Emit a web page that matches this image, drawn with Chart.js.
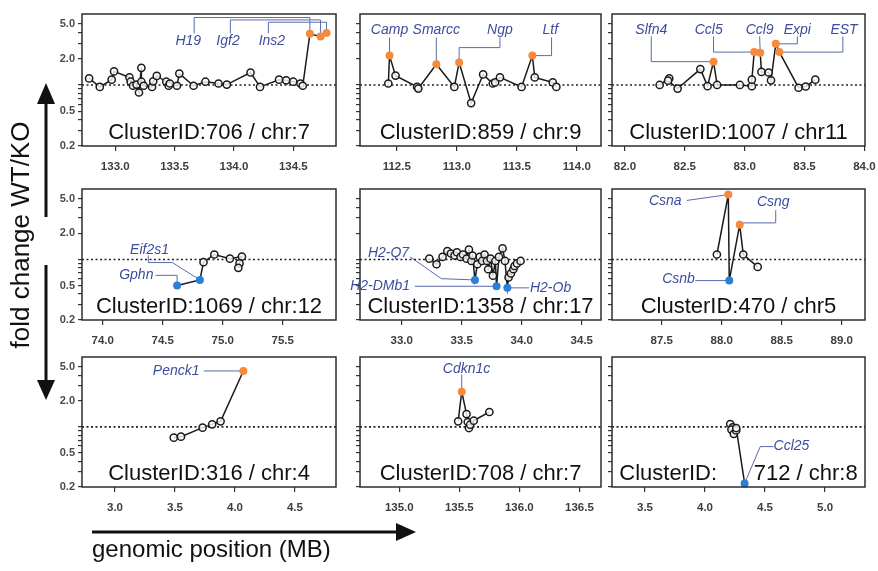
<!DOCTYPE html>
<html>
<head>
<meta charset="utf-8">
<title>Cluster fold change WT/KO</title>
<script src="https://cdn.jsdelivr.net/npm/chart.js@4.4.1/dist/chart.umd.min.js"></script>
<style>
  html, body { margin: 0; padding: 0; background: #fff; overflow: hidden; }
  #page { position: relative; width: 878px; height: 571px; }
  #page canvas { position: absolute; }
  #overlay { position: absolute; left: 0; top: 0; }
</style>
</head>
<body>
<div id="page">
  <svg id="overlay" width="878" height="571" font-family="'Liberation Sans', Arial, sans-serif">
    <g fill="#111" stroke="#111">
      <line x1="46" y1="100" x2="46" y2="217" stroke-width="3"/>
      <polygon points="46,83 37,104 55,104" stroke="none"/>
      <line x1="46" y1="265" x2="46" y2="384" stroke-width="3"/>
      <polygon points="46,400 37,380 55,380" stroke="none"/>
      <line x1="92" y1="532" x2="398" y2="532" stroke-width="3"/>
      <polygon points="416,532 396,523 396,541" stroke="none"/>
    </g>
    <text transform="translate(29,235) rotate(-90)" text-anchor="middle" font-size="26" fill="#111">fold change WT/KO</text>
    <text x="92" y="557" font-size="24" fill="#111">genomic position (MB)</text>
  </svg>
</div>
<script>
// posições (MB) e fold change WT/KO de cada cluster
const c706Pos = [132.78, 132.87, 132.97, 132.99, 133.12, 133.13, 133.15, 133.18, 133.20, 133.22, 133.22, 133.24,
  133.31, 133.32, 133.35, 133.43, 133.45, 133.46, 133.52, 133.54, 133.66, 133.76, 133.87, 133.94, 134.14, 134.22,
  134.38, 134.44, 134.50, 134.56, 134.58, 134.64, 134.73, 134.78];
const c706Fold = [1.19, 0.95, 1.15, 1.43, 1.22, 1.09, 0.98, 1.01, 0.82, 1.57, 1.09, 0.98,
  0.95, 1.10, 1.27, 1.09, 0.98, 1.04, 0.98, 1.35, 0.98, 1.09, 1.04, 1.01, 1.39, 0.95,
  1.15, 1.13, 1.09, 1.04, 0.98, 3.85, 3.6, 3.95];
const c706Hits = [31, 32, 33];
const c706Genes = ["H19", "Igf2", "Ins2"];
const c706Ticks = [133.0, 133.5, 134.0, 134.5];

const c859Pos = [112.43, 112.44, 112.49, 112.67, 112.68, 112.83, 112.98, 113.02, 113.12, 113.22, 113.30, 113.32,
  113.36, 113.54, 113.63, 113.65, 113.80, 113.83];
const c859Fold = [1.04, 2.17, 1.28, 0.95, 0.91, 1.73, 0.95, 1.81, 0.62, 1.32, 1.04, 1.07,
  1.22, 0.95, 2.17, 1.22, 1.07, 0.95];
const c859Hits = [1, 5, 7, 14];
const c859Genes = ["Camp", "Smarcc", "Ngp", "Ltf"];
const c859Ticks = [112.5, 113.0, 113.5, 114.0];

const c1007Pos = [82.29, 82.37, 82.36, 82.44, 82.63, 82.69, 82.74, 82.77, 82.96, 83.06, 83.06, 83.08, 83.13,
  83.14, 83.20, 83.22, 83.26, 83.29, 83.45, 83.51, 83.59];
const c1007Fold = [1.00, 1.19, 1.12, 0.91, 1.52, 0.97, 1.85, 1.00, 1.00, 0.97, 1.15, 2.38, 2.34,
  1.41, 1.39, 1.13, 2.96, 2.38, 0.93, 0.96, 1.15];
const c1007Hits = [6, 11, 12, 16, 17];
const c1007Genes = ["Slfn4", "Ccl5", "Ccl9", "Expi", "EST"];
const c1007Ticks = [82.0, 82.5, 83.0, 83.5, 84.0];

const c1069Pos = [74.62, 74.81, 74.84, 74.93, 75.06, 75.16, 75.14, 75.13];
const c1069Fold = [0.50, 0.58, 0.93, 1.14, 1.02, 1.08, 0.90, 0.80];
const c1069Hits = [0, 1];
const c1069Genes = ["Gphn", "Eif2s1"];
const c1069Ticks = [74.0, 74.5, 75.0, 75.5];

const c1358Pos = [33.23, 33.29, 33.34, 33.38, 33.41, 33.44, 33.46, 33.49, 33.51, 33.54, 33.56, 33.58,
  33.59, 33.61, 33.63, 33.65, 33.67, 33.69, 33.71, 33.72, 33.74, 33.76, 33.78, 33.79, 33.81, 33.84,
  33.86, 33.88, 33.89, 33.91, 33.93, 33.94, 33.96, 33.99];
const c1358Fold = [1.02, 0.88, 1.07, 1.25, 1.17, 1.11, 1.21, 1.07, 1.14, 1.02, 1.30, 0.96,
  1.11, 0.58, 0.88, 1.07, 0.96, 1.14, 0.96, 0.77, 1.02, 0.65, 0.96, 0.49, 1.07, 1.34,
  0.96, 0.47, 0.62, 0.69, 0.77, 0.84, 0.90, 0.96];
const c1358Hits = [13, 23, 27];
const c1358Genes = ["H2-Q7", "H2-DMb1", "H2-Ob"];
const c1358Ticks = [33.0, 33.5, 34.0, 34.5];

const c470Pos = [87.96, 88.055, 88.063, 88.15, 88.18, 88.30];
const c470Fold = [1.14, 5.6, 0.57, 2.52, 1.14, 0.82];
const c470Hits = [1, 2, 3];
const c470Genes = ["Csna", "Csnb", "Csng"];
const c470Ticks = [87.5, 88.0, 88.5, 89.0];

const c316Pos = [3.49, 3.55, 3.73, 3.81, 3.88, 4.07];
const c316Fold = [0.75, 0.77, 0.98, 1.07, 1.16, 4.47];
const c316Hits = [5];
const c316Genes = ["Penck1"];
const c316Ticks = [3.0, 3.5, 4.0, 4.5];

const c708Pos = [135.49, 135.52, 135.56, 135.57, 135.58, 135.59, 135.62, 135.75];
const c708Fold = [1.16, 2.57, 1.41, 1.14, 0.97, 1.06, 1.18, 1.49];
const c708Hits = [1];
const c708Genes = ["Cdkn1c"];
const c708Ticks = [135.0, 135.5, 136.0, 136.5];

const c712Pos = [4.21, 4.23, 4.22, 4.24, 4.26, 4.26, 4.33];
const c712Fold = [1.08, 0.99, 0.93, 0.83, 0.91, 0.97, 0.22];
const c712Hits = [6];
const c712Genes = ["Ccl25"];
const c712Ticks = [3.5, 4.0, 4.5, 5.0];

// eixo y (log) comum
const yTicks = [0.2, 0.3, 0.4, 0.5, 0.6, 0.7, 0.8, 0.9, 1, 2, 3, 4, 5];
const yLabeled = [0.2, 0.5, 2, 5];

// onde ficam os nomes dos genes (coordenadas de dados) e as quebras das linhas
const notes706 = [
  { at: [133.615, 3.19], via: [[133.665, 3.9], [133.665, 5.92], [134.64, 5.92]] },
  { at: [133.95, 3.19], via: [[133.97, 3.9], [133.97, 5.56], [134.73, 5.56]] },
  { at: [134.32, 3.19], via: [[134.29, 3.9], [134.29, 5.23], [134.78, 5.23]] },
];
const notes859 = [
  { at: [112.44, 4.2], via: [[112.44, 3.5]] },
  { at: [112.83, 4.2], via: [[112.83, 3.5]] },
  { at: [113.36, 4.2], via: [[113.36, 3.5], [113.36, 2.68], [113.02, 2.68]] },
  { at: [113.78, 4.2], via: [[113.79, 3.5], [113.79, 2.17]] },
];
const notes1007 = [
  { at: [82.22, 4.29], via: [[82.22, 3.6], [82.22, 1.85]] },
  { at: [82.70, 4.29], via: [[82.74, 3.6], [82.74, 2.38]] },
  { at: [83.125, 4.29], via: [[83.125, 3.6]] },
  { at: [83.44, 4.29], via: [[83.44, 3.6], [83.44, 2.96]] },
  { at: [83.83, 4.29], via: [[83.82, 3.6], [83.82, 2.38]] },
];
const notes1069 = [
  { at: [74.28, 0.655], via: [[74.44, 0.655], [74.62, 0.655]] },
  { at: [74.39, 1.28], via: [[74.38, 1.11], [74.38, 0.92], [74.58, 0.92]] },
];
const notes1358 = [
  { at: [32.89, 1.19], via: [[33.07, 1.07], [33.33, 0.60]] },
  { at: [32.82, 0.486], via: [[33.11, 0.49]] },
  { at: [34.24, 0.47], via: [[34.06, 0.47]] },
];
const notes470 = [
  { at: [87.53, 4.68], via: [[87.71, 4.8]] },
  { at: [87.64, 0.59], via: [[87.78, 0.57]] },
  { at: [88.43, 4.6], via: [[88.45, 3.7], [88.45, 2.64], [88.16, 2.64]] },
];
const notes316 = [{ at: [3.51, 4.43], via: [[3.74, 4.47]] }];
const notes708 = [{ at: [135.56, 4.68], via: [[135.52, 4.06]] }];
const notes712 = [{ at: [4.72, 0.59], via: [[4.57, 0.59], [4.46, 0.59]] }];

// painéis: caixa = [esquerda, topo, largura, altura] em px
const panels = [
  { title: "ClusterID:706 / chr:7", pos: c706Pos, fold: c706Fold, hits: c706Hits, names: c706Genes, xt: c706Ticks, notes: notes706, xr: [132.72, 134.86], box: [82, 14, 254, 132], yLab: true },
  { title: "ClusterID:859 / chr:9", pos: c859Pos, fold: c859Fold, hits: c859Hits, names: c859Genes, xt: c859Ticks, notes: notes859, xr: [112.194, 114.202], box: [360, 14, 241, 132] },
  { title: "ClusterID:1007 / chr11", pos: c1007Pos, fold: c1007Fold, hits: c1007Hits, names: c1007Genes, xt: c1007Ticks, notes: notes1007, xr: [81.892, 84.005], box: [612, 14, 253, 132] },
  { title: "ClusterID:1069 / chr:12", pos: c1069Pos, fold: c1069Fold, hits: c1069Hits, names: c1069Genes, xt: c1069Ticks, notes: notes1069, xr: [73.8275, 75.944], box: [82, 189, 254, 131], yLab: true },
  { title: "ClusterID:1358 / chr:17", pos: c1358Pos, fold: c1358Fold, hits: c1358Hits, names: c1358Genes, xt: c1358Ticks, notes: notes1358, xr: [32.6525, 34.66], box: [360, 189, 241, 131] },
  { title: "ClusterID:470 / chr5", pos: c470Pos, fold: c470Fold, hits: c470Hits, names: c470Genes, xt: c470Ticks, notes: notes470, xr: [87.086, 89.194], box: [612, 189, 253, 131] },
  { title: "ClusterID:316 / chr:4", pos: c316Pos, fold: c316Fold, hits: c316Hits, names: c316Genes, xt: c316Ticks, notes: notes316, xr: [2.725, 4.842], box: [82, 357, 254, 130], yLab: true },
  { title: "ClusterID:708 / chr:7", pos: c708Pos, fold: c708Fold, hits: c708Hits, names: c708Genes, xt: c708Ticks, notes: notes708, xr: [134.6725, 136.68], box: [360, 357, 241, 130] },
  { title: "ClusterID:      712 / chr:8", pos: c712Pos, fold: c712Fold, hits: c712Hits, names: c712Genes, xt: c712Ticks, notes: notes712, xr: [3.225, 5.333], box: [612, 357, 253, 130] },
];

const ORANGE = "#f68b3c";
const BLUE = "#2c7fd6";
const INK = "#1a1a1a";
const NOTE = "#3c4d9c";
const NOTE_LINE = "#5a6aae";
const FONT = '"Liberation Sans", Arial, Helvetica, sans-serif';
Chart.defaults.font.family = FONT;

// caixa, título do cluster e rótulos dos genes
function makeDeco(p) {
  return {
    id: "deco",
    beforeDatasetsDraw(chart) {
      const { ctx, chartArea: a, scales: { x, y } } = chart;
      ctx.save();
      ctx.font = "22px " + FONT;
      ctx.fillStyle = "#111";
      ctx.textAlign = "center";
      ctx.textBaseline = "alphabetic";
      ctx.fillText(p.title, (a.left + a.right) / 2, a.bottom - 7);
      ctx.strokeStyle = NOTE_LINE;
      ctx.lineWidth = 1;
      p.hits.forEach((idx, k) => {
        const n = p.notes[k];
        ctx.beginPath();
        n.via.forEach((v, j) => {
          const px = x.getPixelForValue(v[0]);
          const py = y.getPixelForValue(v[1]);
          if (j === 0) ctx.moveTo(px, py);
          else ctx.lineTo(px, py);
        });
        ctx.lineTo(x.getPixelForValue(p.pos[idx]), y.getPixelForValue(p.fold[idx]));
        ctx.stroke();
      });
      ctx.restore();
    },
    afterDraw(chart) {
      const { ctx, chartArea: a, scales: { x, y } } = chart;
      ctx.save();
      ctx.strokeStyle = "#2a2e35";
      ctx.lineWidth = 1.5;
      ctx.strokeRect(a.left, a.top, a.right - a.left, a.bottom - a.top);
      ctx.font = "italic 14px " + FONT;
      ctx.fillStyle = NOTE;
      ctx.textAlign = "center";
      ctx.textBaseline = "middle";
      p.names.forEach((name, k) => {
        const n = p.notes[k];
        ctx.fillText(name, x.getPixelForValue(n.at[0]), y.getPixelForValue(n.at[1]));
      });
      ctx.restore();
    },
  };
}

const page = document.getElementById("page");
const overlay = document.getElementById("overlay");

panels.forEach((p) => {
  const [bx, by, bw, bh] = p.box;
  const canvas = document.createElement("canvas");
  canvas.width = bw + 70;
  canvas.height = bh + 44;
  canvas.style.left = bx - 40 + "px";
  canvas.style.top = by - 10 + "px";
  page.insertBefore(canvas, overlay);

  const hit = p.pos.map((_, i) => p.hits.includes(i));
  const fill = p.fold.map((f, i) => (hit[i] ? (f > 1 ? ORANGE : BLUE) : "rgba(255,255,255,0.8)"));

  new Chart(canvas.getContext("2d"), {
    type: "line",
    data: {
      datasets: [
        {
          data: p.pos.map((v, i) => ({ x: v, y: p.fold[i] })),
          borderColor: INK,
          borderWidth: 1.5,
          tension: 0,
          pointBackgroundColor: fill,
          pointBorderColor: p.fold.map((f, i) => (hit[i] ? fill[i] : INK)),
          pointBorderWidth: hit.map((h) => (h ? 0 : 1.5)),
          pointRadius: hit.map((h) => (h ? 4 : 3.6)),
          clip: false,
        },
        {
          // linha pontilhada em fold change = 1
          data: [{ x: p.xr[0], y: 1 }, { x: p.xr[1], y: 1 }],
          borderColor: "#222",
          borderWidth: 1.6,
          borderDash: [2, 2.5],
          pointRadius: 0,
        },
      ],
    },
    options: {
      responsive: false,
      animation: false,
      devicePixelRatio: 1,
      events: [],
      layout: { padding: { left: 0, top: 10, right: 30, bottom: 0 } },
      scales: {
        x: {
          type: "linear",
          min: p.xr[0],
          max: p.xr[1],
          afterBuildTicks: (s) => { s.ticks = p.xt.map((v) => ({ value: v })); },
          afterFit: (s) => { s.height = 34; },
          border: { display: false },
          grid: { drawOnChartArea: false, tickLength: 5, color: "#333", lineWidth: 1.2 },
          ticks: {
            autoSkip: false,
            maxRotation: 0,
            padding: 9,
            color: "#3d3d3d",
            font: { size: 11.5, weight: "bold" },
            callback: (v) => Number(v).toFixed(1),
          },
        },
        y: {
          type: "logarithmic",
          min: 0.2,
          max: 6.5,
          afterBuildTicks: (s) => { s.ticks = yTicks.map((v) => ({ value: v })); },
          afterFit: (s) => { s.width = 40; },
          border: { display: false },
          grid: { drawOnChartArea: false, tickLength: 4, color: "#333", lineWidth: 1.2 },
          ticks: {
            autoSkip: false,
            padding: 3,
            color: "#4a4a4a",
            font: { size: 11, weight: "bold" },
            callback: (v) => (p.yLab && yLabeled.includes(v) ? Number(v).toFixed(1) : ""),
          },
        },
      },
      plugins: {
        legend: { display: false },
        tooltip: { enabled: false },
      },
    },
    plugins: [makeDeco(p)],
  });
});
</script>
</body>
</html>
